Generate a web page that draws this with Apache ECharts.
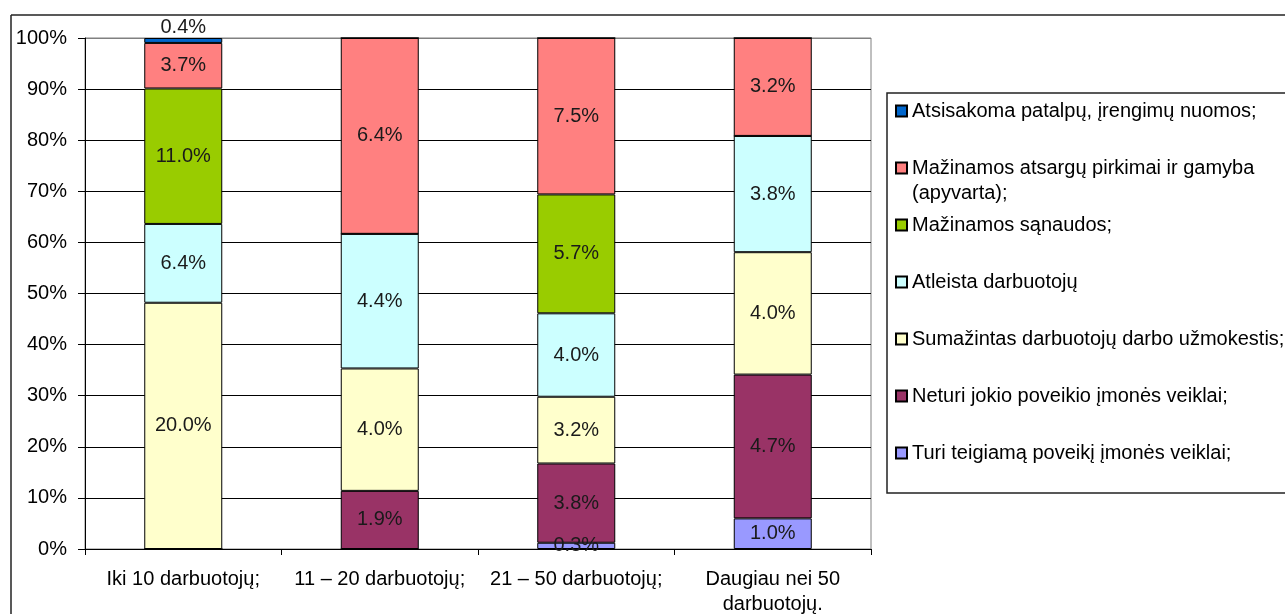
<!DOCTYPE html>
<html>
<head>
<meta charset="utf-8">
<script src="https://cdn.jsdelivr.net/npm/echarts@6/dist/echarts.min.js"></script>
<style>
  html, body { margin: 0; padding: 0; background: #fff; }
  #chart { width: 1285px; height: 614px; }
</style>
</head>
<body>
<div id="chart"></div>
<script>
// categories (x axis)
const categories = ['Iki 10 darbuotojų;', '11 – 20 darbuotojų;', '21 – 50 darbuotojų;', 'Daugiau nei 50 darbuotojų.']

// series, bottom of the stack first; values are the labelled shares
const seriesNames = [
  'Turi teigiamą poveikį įmonės veiklai;',
  'Neturi jokio poveikio įmonės veiklai;',
  'Sumažintas darbuotojų darbo užmokestis;',
  'Atleista darbuotojų',
  'Mažinamos sąnaudos;',
  'Mažinamos atsargų pirkimai ir gamyba (apyvarta);',
  'Atsisakoma patalpų, įrengimų nuomos;'
]
const turi = [0, 0, 0.3, 1.0]
const neturi = [0, 1.9, 3.8, 4.7]
const sumazintas = [20.0, 4.0, 3.2, 4.0]
const atleista = [6.4, 4.4, 4.0, 3.8]
const sanaudos = [11.0, 0, 5.7, 0]
const atsargos = [3.7, 6.4, 7.5, 3.2]
const nuoma = [0.4, 0, 0, 0]

const seriesValues = [turi, neturi, sumazintas, atleista, sanaudos, atsargos, nuoma]
const colors = ['#9999FF', '#993366', '#FFFFCC', '#CCFFFF', '#99CC00', '#FF8080', '#0066CC']

// y ticks
const yMin = 0
const yMax = 100
const yStep = 10

// 100% stacking: every column scaled to its own total
const totals = categories.map((c, i) => seriesValues.reduce((s, arr) => s + arr[i], 0))

const font = 'Liberation Sans'
const fontSize = 20

const chart = echarts.init(document.getElementById('chart'))

const series = seriesNames.map((name, k) => ({
  name: name,
  type: 'bar',
  stack: 'all',
  barWidth: 78,
  itemStyle: { color: colors[k], borderColor: '#000', borderWidth: 1 },
  label: {
    show: true,
    position: k === seriesNames.length - 1 ? 'top' : 'inside',
    distance: 1,
    color: '#1a1a1a',
    fontFamily: font,
    fontSize: fontSize,
    formatter: (p) => {
      const raw = seriesValues[k][p.dataIndex]
      return raw ? raw.toFixed(1) + '%' : ''
    }
  },
  data: seriesValues[k].map((v, i) => v / totals[i] * 100)
}))

// legend: top item first, one component per row so rows keep an even pitch
const legendOrder = seriesNames.slice().reverse()
const legends = legendOrder.map((name, i) => {
  const wrapped = i === 1
  return {
    orient: 'vertical',
    left: 895,
    top: wrapped ? 111 + 57 * i - 37.5 : 111 + 57 * i - 11,
    padding: 0,
    icon: 'rect',
    itemWidth: 11,
    itemHeight: 11,
    itemGap: 0,
    data: [name],
    // leading blank line keeps the marker beside the first text line
    formatter: (n) => wrapped ? '\nMažinamos atsargų pirkimai ir gamyba\n(apyvarta);' : n,
    textStyle: {
      fontFamily: font,
      fontSize: fontSize,
      color: '#000',
      lineHeight: wrapped ? 25 : 22
    }
  }
})

const gridColors = []
for (let v = yMin; v <= yMax; v += yStep) gridColors.push(v === yMax ? '#808080' : '#000')

chart.setOption({
  backgroundColor: '#fff',
  animation: false,
  grid: {
    left: 85,
    right: 414,
    top: 38,
    bottom: 65,
    outerBoundsMode: 'none',
    containLabel: false,
    show: true,
    borderColor: '#808080',
    borderWidth: 1
  },
  graphic: [
    { type: 'line', shape: { x1: 11, y1: 15, x2: 1285, y2: 15 }, style: { stroke: '#222', lineWidth: 1.5 } },
    { type: 'line', shape: { x1: 11, y1: 15, x2: 11, y2: 614 }, style: { stroke: '#222', lineWidth: 1.5 } },
    { type: 'rect', shape: { x: 887, y: 93, width: 410, height: 400 }, style: { fill: 'none', stroke: '#222', lineWidth: 1.5 } }
  ],
  legend: legends,
  xAxis: {
    type: 'category',
    data: categories,
    axisLine: { lineStyle: { color: '#000', width: 1 } },
    axisTick: { show: true, length: 6, lineStyle: { color: '#000' } },
    axisLabel: {
      color: '#000',
      fontFamily: font,
      fontSize: fontSize,
      margin: 18,
      lineHeight: 25,
      interval: 0,
      // the long category wraps after "50" as in the original
      formatter: (v) => v.replace('nei 50 ', 'nei 50\n')
    }
  },
  yAxis: {
    type: 'value',
    min: yMin,
    max: yMax,
    interval: yStep,
    axisLine: { show: true, lineStyle: { color: '#000', width: 1 } },
    axisTick: { show: true, length: 7, lineStyle: { color: '#000' } },
    axisLabel: {
      color: '#000',
      fontFamily: font,
      fontSize: fontSize,
      margin: 18,
      formatter: '{value}%'
    },
    splitLine: { show: true, lineStyle: { color: gridColors, width: 1 } }
  },
  series: series
})
</script>
</body>
</html>
